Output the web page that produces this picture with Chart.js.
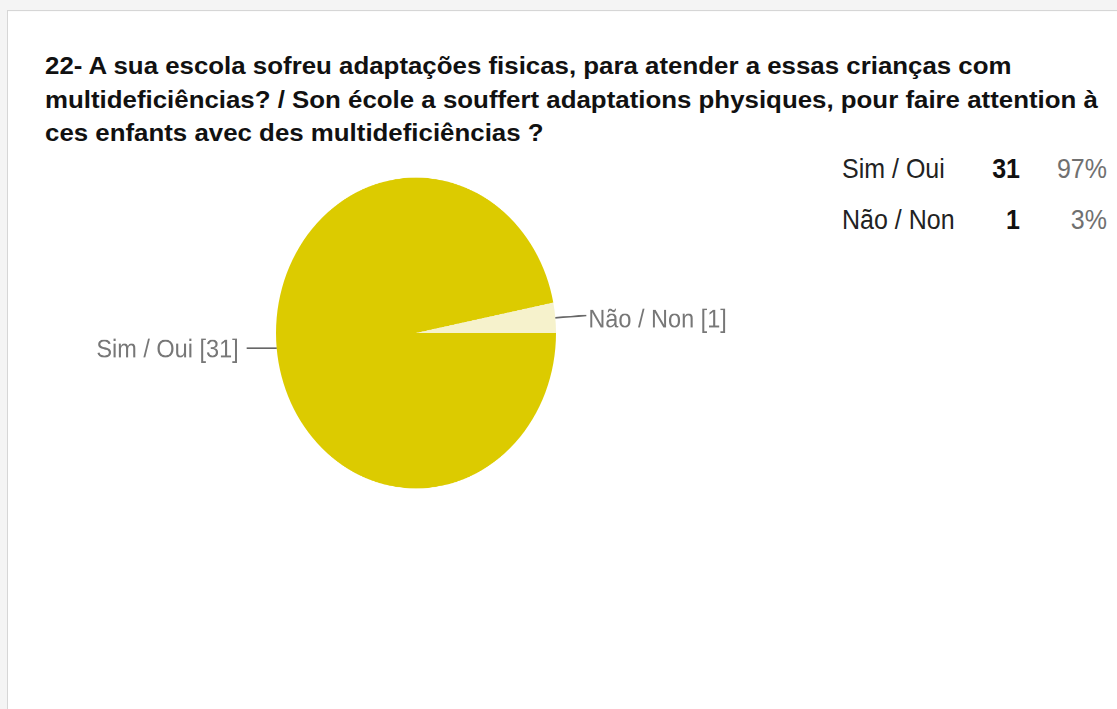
<!DOCTYPE html>
<html lang="pt">
<head>
    <meta charset="UTF-8">
    <title>22- A sua escola sofreu adaptações fisicas</title>
    <script src="https://cdn.jsdelivr.net/npm/chart.js@4.4.1/dist/chart.umd.min.js"></script>
    <style>
        html, body {
            margin: 0;
            padding: 0;
            width: 1117px;
            height: 709px;
            overflow: hidden;
            background: #f4f4f4;
            font-family: "Liberation Sans", Arial, Helvetica, sans-serif;
        }
        /* the source screenshot is stretched vertically by ~11% */
        #page {
            position: absolute;
            left: 0;
            top: 0;
            width: 1117px;
            height: 639px;
            transform-origin: 0 0;
            transform: scale(1, 1.11);
        }
        .panel {
            position: absolute;
            left: 7px;
            top: 9px;
            right: -2px;
            bottom: -2px;
            background: #fff;
            border: 1px solid #d6d6d6;
        }
        /* title glyphs are wider than Liberation Sans bold */
        h1 {
            position: absolute;
            left: 45px;
            top: 45px;
            margin: 0;
            font-size: 22px;
            line-height: 30px;
            font-weight: bold;
            color: #111;
            white-space: nowrap;
            transform-origin: 0 0;
            transform: scaleX(1.175);
        }
        .cell {
            position: absolute;
            font-size: 25px;
            line-height: 30px;
            white-space: nowrap;
        }
        .lbl { left: 842px; color: #222; }
        .num { right: 97px; color: #111; font-weight: bold; text-align: right; }
        .pct { right: 10px; color: #707070; text-align: right; }
        #chartBox {
            position: absolute;
            left: 16px;
            top: 149.5px;
            width: 800px;
            height: 300px;
        }
    </style>
</head>
<body>
<div id="page">
    <div class="panel"></div>
    <h1>22- A sua escola sofreu adaptações fisicas, para atender a essas crianças com<br>multideficiências? / Son école a souffert adaptations physiques, pour faire attention à<br>ces enfants avec des multideficiências ?</h1>
    <div id="summary"></div>
    <div id="chartBox"><canvas id="pieChart" width="800" height="300"></canvas></div>
</div>

<script>
    const labels = ['Sim / Oui', 'Não / Non'];
    const counts = [31, 1];
    const percents = ['97%', '3%'];
    const colors = ['#dccb00', '#f6f2cc'];

    // summary table on the right
    const summary = document.getElementById('summary');
    labels.forEach((name, i) => {
        const top = 136 + i * 46;
        summary.insertAdjacentHTML('beforeend',
            `<div class="cell lbl" style="top:${top}px">${name}</div>` +
            `<div class="cell num" style="top:${top}px">${counts[i]}</div>` +
            `<div class="cell pct" style="top:${top}px">${percents[i]}</div>`);
    });

    // leader lines + "label [n]" next to each slice
    const sliceLabels = {
        id: 'sliceLabels',
        afterDatasetsDraw(chart) {
            const ctx = chart.ctx;
            const meta = chart.getDatasetMeta(0);
            meta.data.forEach((arc, i) => {
                const mid = (arc.startAngle + arc.endAngle) / 2;
                const x0 = arc.x + Math.cos(mid) * arc.outerRadius;
                const y0 = arc.y + Math.sin(mid) * arc.outerRadius;
                const right = Math.cos(mid) >= 0;
                const x1 = x0 + (right ? 31 : -30);
                ctx.save();
                ctx.strokeStyle = '#666';
                ctx.lineWidth = 1.5;
                ctx.beginPath();
                ctx.moveTo(x0, y0);
                ctx.lineTo(x1, y0 - (right ? 2 : 0));
                ctx.stroke();
                ctx.fillStyle = '#777';
                ctx.font = '23.5px "Liberation Sans", Arial, sans-serif';
                ctx.textBaseline = 'middle';
                ctx.textAlign = right ? 'left' : 'right';
                const text = `${chart.data.labels[i]} [${chart.data.datasets[0].data[i]}]`;
                ctx.fillText(text, x1 + (right ? 2 : -8), y0 + 2);
                ctx.restore();
            });
        }
    };

    new Chart(document.getElementById('pieChart'), {
        type: 'pie',
        data: {
            labels: labels,
            datasets: [{
                data: counts,
                backgroundColor: colors,
                borderWidth: 0
            }]
        },
        options: {
            responsive: false,
            animation: false,
            devicePixelRatio: 2,
            rotation: 90,
            events: [],
            layout: { padding: { top: 10, bottom: 10 } },
            plugins: {
                legend: { display: false },
                tooltip: { enabled: false },
                title: { display: false }
            }
        },
        plugins: [sliceLabels]
    });
</script>
</body>
</html>
